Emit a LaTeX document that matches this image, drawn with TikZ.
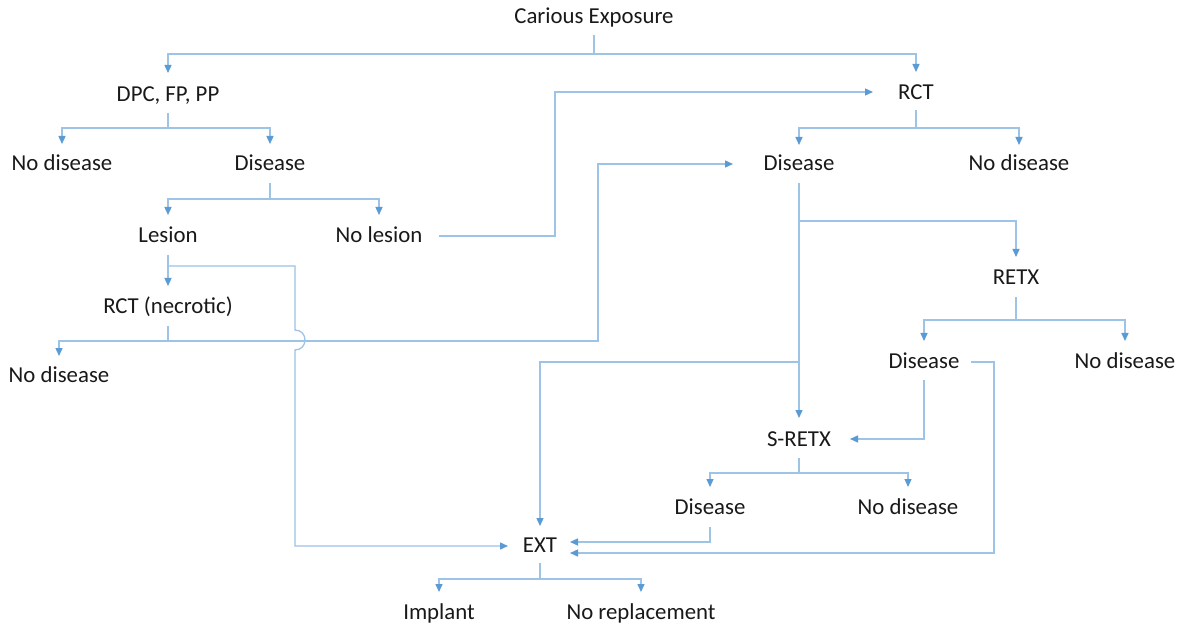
\documentclass[tikz,border=0pt]{standalone}
\usepackage{fontspec}
\setmainfont{Carlito}
\usetikzlibrary{arrows.meta,calc}
\definecolor{lnc}{HTML}{9DC3E6}
\definecolor{arc}{HTML}{5B9BD5}
\tikzset{
  lbl/.style={inner sep=0pt,outer sep=0pt,font=\fontsize{22.8}{27}\selectfont,text height=1.4em,text depth=0.1em,text=black!90},
  ln/.style={draw=lnc,line width=1.3pt},
  ar/.style={ln,-{Triangle[length=8pt,width=7pt,color=arc]}}
}
\begin{document}
\begin{tikzpicture}[x=1pt,y=-1pt]
\useasboundingbox[fill=white] (0,0) rectangle (1178,628);
% nodes
\node[lbl] (ce) at (594,17) {Carious Exposure};
\node[lbl] (dpc) at (168,95) {DPC, FP, PP};
\node[lbl] (rct) at (916,93) {RCT};
\node[lbl] (nd1) at (62,164) {No disease};
\node[lbl] (dl) at (270,164) {Disease};
\node[lbl] (dr) at (799,164) {Disease};
\node[lbl] (nd2) at (1019,164) {No disease};
\node[lbl] (les) at (168,236) {Lesion};
\node[lbl] (nles) at (379,236) {No lesion};
\node[lbl] (retx) at (1016,278) {RETX};
\node[lbl] (rctn) at (168,307) {RCT (necrotic)};
\node[lbl] (nd3) at (59,376) {No disease};
\node[lbl] (dx) at (924,362) {Disease};
\node[lbl] (nd4) at (1125,362) {No disease};
\node[lbl] (sretx) at (799,440) {S-RETX};
\node[lbl] (ds) at (710,508) {Disease};
\node[lbl] (nd5) at (908,508) {No disease};
\node[lbl] (ext) at (540,546) {EXT};
\node[lbl] (imp) at (439,613) {Implant};
\node[lbl] (nrep) at (641,613) {No replacement};
% Carious Exposure
\draw[ln] ($(ce)+(0,18)$) -- ($(ce)+(0,37)$);
\draw[ar] ($(ce)+(0,37)$) -| ($(dpc)+(0,-22)$);
\draw[ar] ($(ce)+(0,37)$) -| ($(rct)+(0,-21)$);
% DPC
\draw[ln] ($(dpc)+(0,18)$) -- ($(dpc)+(0,33)$);
\draw[ar] ($(dpc)+(0,33)$) -| ($(nd1)+(0,-20)$);
\draw[ar] ($(dpc)+(0,33)$) -| ($(dl)+(0,-20)$);
% RCT
\draw[ln] ($(rct)+(0,17)$) -- ($(rct)+(0,35)$);
\draw[ar] ($(rct)+(0,35)$) -| ($(dr)+(0,-19)$);
\draw[ar] ($(rct)+(0,35)$) -| ($(nd2)+(0,-19)$);
% Disease (left)
\draw[ln] ($(dl)+(0,19)$) -- ($(dl)+(0,35)$);
\draw[ar] ($(dl)+(0,35)$) -| ($(les)+(0,-21)$);
\draw[ar] ($(dl)+(0,35)$) -| ($(nles)+(0,-21)$);
% No lesion -> RCT
\draw[ar] ($(nles)+(60,0)$) -- ($(nles)+(176,0)$) |- ($(rct)+(-43,-1)$);
% Lesion
\draw[ar] ($(les)+(0,19)$) -- ($(rctn)+(0,-21)$);
\draw[ar] ($(les)+(0,30)$) -- (295,266) -- (295,330)
  .. controls (308.3,330) and (308.3,350) .. (295,350)
  -- (295,546) -- ($(ext)+(-32,0)$);
% RCT (necrotic)
\draw[ln] ($(rctn)+(0,19)$) -- ($(rctn)+(0,34)$);
\draw[ar] ($(rctn)+(0,34)$) -| ($(nd3)+(0,-20)$);
\draw[ar] ($(rctn)+(0,34)$) -- (598,341) |- ($(dr)+(-66,0)$);
% Disease (right)
\draw[ar] ($(dr)+(0,19)$) -- ($(sretx)+(0,-22)$);
\draw[ar] ($(dr)+(0,57)$) -| ($(retx)+(0,-21)$);
\draw[ar] ($(dr)+(0,198)$) -| ($(ext)+(0,-20)$);
% RETX
\draw[ln] ($(retx)+(0,19)$) -- ($(retx)+(0,42)$);
\draw[ar] ($(retx)+(0,42)$) -| ($(dx)+(0,-21)$);
\draw[ar] ($(retx)+(0,42)$) -| ($(nd4)+(0,-21)$);
% Disease (RETX)
\draw[ar] ($(dx)+(0,18)$) |- ($(sretx)+(51,-1)$);
\draw[ar] ($(dx)+(47,0)$) -- (994,362) |- ($(ext)+(30,7)$);
% S-RETX
\draw[ln] ($(sretx)+(0,18)$) -- ($(sretx)+(0,33)$);
\draw[ar] ($(sretx)+(0,33)$) -| ($(ds)+(0,-21)$);
\draw[ar] ($(sretx)+(0,33)$) -| ($(nd5)+(0,-21)$);
% Disease (S-RETX)
\draw[ar] ($(ds)+(0,19)$) |- ($(ext)+(30,-4)$);
% EXT
\draw[ln] ($(ext)+(0,17)$) -- ($(ext)+(0,33)$);
\draw[ar] ($(ext)+(0,33)$) -| ($(imp)+(0,-21)$);
\draw[ar] ($(ext)+(0,33)$) -| ($(nrep)+(0,-21)$);
\end{tikzpicture}
\end{document}
